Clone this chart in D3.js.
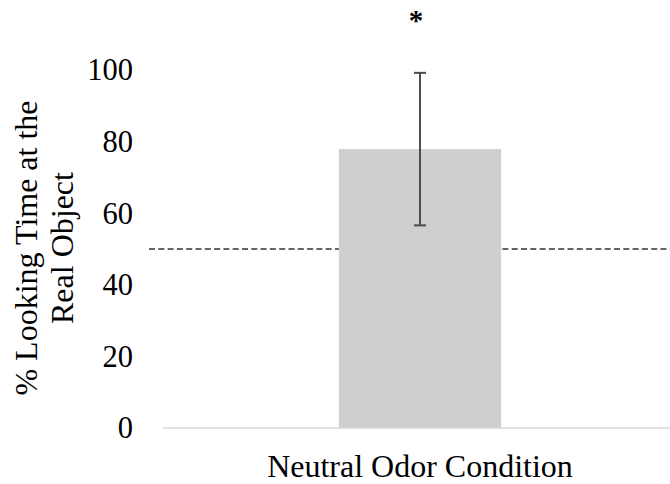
<!DOCTYPE html>
<html lang="en">
<head>
    <meta charset="UTF-8">
    <title>Neutral Odor Condition</title>
    <script src="https://d3js.org/d3.v7.min.js"></script>
    <style>
        body { margin: 0; background: #fff; }
        text { font-family: "Liberation Serif", "Times New Roman", serif; fill: #000; }
    </style>
</head>
<body>
    <div id="chart"></div>
    <script>
        // Data
        const categories = ["Neutral Odor Condition"];
        const means = [77.9];
        const errors = [21.3];
        const chance = 50;
        const yTicks = [0, 20, 40, 60, 80, 100];
        const yTitle = ["% Looking Time at the", "Real Object"];

        const width = 670, height = 484;

        const svg = d3.select("#chart")
            .append("svg")
            .attr("width", width)
            .attr("height", height);

        const x = d3.scaleBand()
            .domain(categories)
            .range([163, 677])
            .padding(0.52);

        const y = d3.scaleLinear()
            .domain([0, 100])
            .range([428, 70]);

        // Tick labels (no axis line on y)
        svg.selectAll(".ytick")
            .data(yTicks)
            .join("text")
            .attr("class", "ytick")
            .attr("x", 133)
            .attr("y", d => y(d))
            .attr("dy", "0.34em")
            .attr("text-anchor", "end")
            .style("font-size", "30.5px")
            .text(d => d);

        // Chance line (drawn under the bar)
        svg.append("line")
            .attr("x1", 149).attr("x2", width)
            .attr("y1", y(chance)).attr("y2", y(chance))
            .attr("stroke", "#333")
            .attr("stroke-width", 1.3)
            .attr("stroke-dasharray", "6,3.3");

        // Bars
        svg.selectAll(".bar")
            .data(means)
            .join("rect")
            .attr("class", "bar")
            .attr("x", (d, i) => x(categories[i]))
            .attr("y", d => y(d))
            .attr("width", x.bandwidth())
            .attr("height", d => y(0) - y(d))
            .attr("fill", "#d0cece");

        // Baseline
        svg.append("line")
            .attr("x1", 163).attr("x2", width)
            .attr("y1", y(0)).attr("y2", y(0))
            .attr("stroke", "#d9d9d9")
            .attr("stroke-width", 1.5);

        // Error bars
        const eb = svg.selectAll(".err")
            .data(means)
            .join("g")
            .attr("class", "err")
            .attr("stroke", "#4d4d4d")
            .attr("stroke-width", 2);

        const cx = (i) => x(categories[i]) + x.bandwidth() / 2;

        eb.append("line")
            .attr("x1", (d, i) => cx(i)).attr("x2", (d, i) => cx(i))
            .attr("y1", (d, i) => y(d + errors[i]))
            .attr("y2", (d, i) => y(d - errors[i]));
        eb.append("line")
            .attr("x1", (d, i) => cx(i) - 6).attr("x2", (d, i) => cx(i) + 6)
            .attr("y1", (d, i) => y(d + errors[i]))
            .attr("y2", (d, i) => y(d + errors[i]));
        eb.append("line")
            .attr("x1", (d, i) => cx(i) - 6).attr("x2", (d, i) => cx(i) + 6)
            .attr("y1", (d, i) => y(d - errors[i]))
            .attr("y2", (d, i) => y(d - errors[i]));

        // Significance marker
        svg.selectAll(".sig")
            .data(means)
            .join("text")
            .attr("class", "sig")
            .attr("x", (d, i) => cx(i) - 4)
            .attr("y", 30)
            .attr("text-anchor", "middle")
            .style("font-size", "29px")
            .style("font-weight", "bold")
            .text("*");

        // X category label
        svg.selectAll(".xlab")
            .data(categories)
            .join("text")
            .attr("class", "xlab")
            .attr("x", d => x(d) + x.bandwidth() / 2)
            .attr("y", 477)
            .attr("text-anchor", "middle")
            .style("font-size", "32px")
            .text(d => d);

        // Y title
        const title = svg.append("text")
            .attr("transform", "translate(0,248) rotate(-90)")
            .attr("text-anchor", "middle")
            .style("font-size", "32px");
        title.selectAll("tspan")
            .data(yTitle)
            .join("tspan")
            .attr("x", 0)
            .attr("y", (d, i) => 37 + i * 36)
            .text(d => d);
    </script>
</body>
</html>
